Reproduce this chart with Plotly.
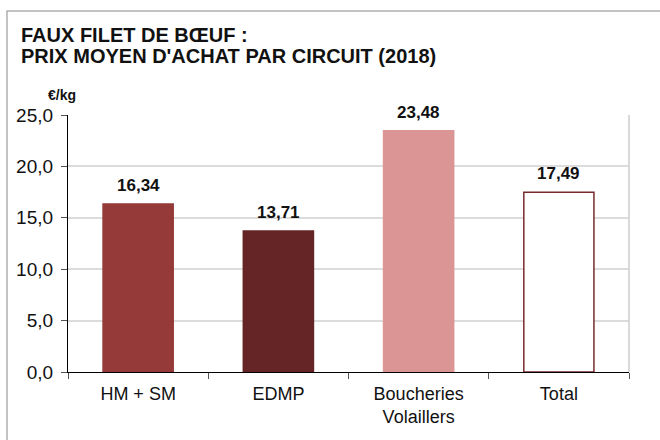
import plotly.graph_objects as go

categories = ["HM + SM", "EDMP", "Boucheries<br>Volaillers", "Total"]
values = [16.34, 13.71, 23.48, 17.49]
labels = ["16,34", "13,71", "23,48", "17,49"]
fill_colors = ["#963939", "#652426", "#da9594", "#ffffff"]
line_colors = ["#963939", "#652426", "#da9594", "#7a2a2c"]
y_ticks = [0, 5, 10, 15, 20, 25]
y_tick_labels = ["0,0", "5,0", "10,0", "15,0", "20,0", "25,0"]

FONT = "Liberation Sans, Arial, sans-serif"

fig = go.Figure()
fig.add_trace(go.Bar(
    x=categories, y=values, width=0.5,
    marker=dict(color=fill_colors, line=dict(color=line_colors, width=1.5)),
    hoverinfo="skip",
))

L, R, T, B = 68, 31, 115, 68
W, H = 660, 440
pw, ph = W - L - R, H - T - B

def px(x):
    return (x - L) / pw

def py(y):
    return (H - B - y) / ph

value_annotations = [
    dict(text="<b>%s</b>" % lab, x=cat, y=val, xref="x", yref="y",
         xanchor="center", yanchor="bottom", yshift=7, showarrow=False,
         font=dict(family=FONT, size=17, color="#111111"))
    for cat, val, lab in zip(categories, values, labels)
]

fig.update_layout(
    width=W, height=H,
    margin=dict(l=L, r=R, t=T, b=B),
    paper_bgcolor="white", plot_bgcolor="white",
    showlegend=False,
    font=dict(family=FONT, size=18, color="#111111"),
    xaxis=dict(
        showline=True, linecolor="black", linewidth=1.2,
        ticks="outside", ticklen=6, tickcolor="#555555",
        tickson="boundaries", showgrid=False, ticklabelstandoff=5,
        tickfont=dict(size=18, family=FONT, color="#111111"),
    ),
    yaxis=dict(
        range=[0, 25], tickvals=y_ticks, ticktext=y_tick_labels,
        showline=True, linecolor="black", linewidth=1.2,
        ticks="outside", ticklen=6, tickcolor="#555555",
        ticklabelstandoff=4,
        showgrid=True, gridcolor="#dcdcdc", gridwidth=1.5,
        tickfont=dict(size=19, family=FONT, color="#111111"),
        zeroline=False,
    ),
    annotations=value_annotations + [
        dict(text="<b>FAUX FILET DE BŒUF :</b>",
             xref="paper", yref="paper", x=px(19), y=py(35), xanchor="left", yanchor="middle",
             showarrow=False, font=dict(family=FONT, size=20, color="#111111")),
        dict(text="<b>PRIX MOYEN D'ACHAT PAR CIRCUIT (2018)</b>",
             xref="paper", yref="paper", x=px(19), y=py(56), xanchor="left", yanchor="middle",
             showarrow=False, font=dict(family=FONT, size=20, color="#111111")),
        dict(text="<b>€/kg</b>", xref="paper", yref="paper", x=px(46), y=py(95),
             xanchor="left", yanchor="middle", showarrow=False,
             font=dict(family=FONT, size=14, color="#111111")),
    ],
    shapes=[
        dict(type="rect", xref="paper", yref="paper",
             x0=px(7), x1=px(668), y0=py(448), y1=py(11),
             line=dict(color="#b0b0b0", width=1.5), layer="below"),
        dict(type="line", xref="paper", yref="paper", x0=1, x1=1, y0=0, y1=1,
             line=dict(color="#cccccc", width=1.5)),
    ],
)

fig.write_html("out.html", config={"displayModeBar": False},
               post_script="document.body.style.margin='0';")
